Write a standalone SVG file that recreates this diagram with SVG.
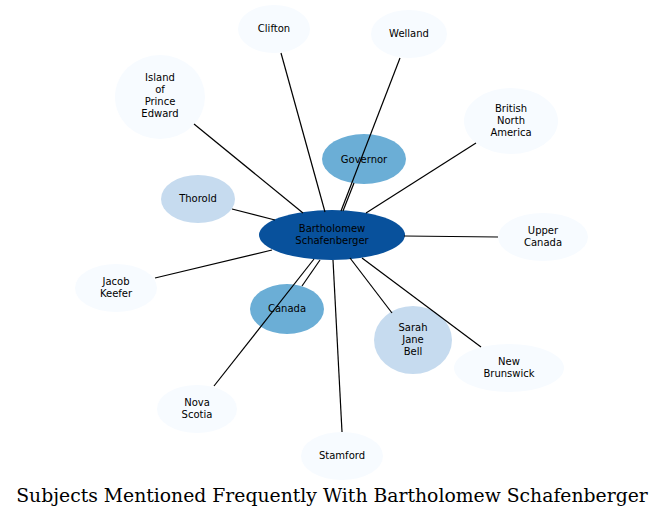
<svg xmlns="http://www.w3.org/2000/svg" width="664" height="517" viewBox="0 0 664 517">
<style>
text{font-family:"DejaVu Sans",sans-serif;font-size:10px;text-anchor:middle;fill:#000}
.t{font-family:"DejaVu Serif",serif;font-size:18.8px}
.c0{fill:#08519c}.c1{fill:#6baed6}.c2{fill:#c6dbef}.c3{fill:#f7fbff}
#edges line{stroke:#000;stroke-width:1.2}
</style>
<rect width="664" height="517" fill="#fff"/>
<g id="n-center"><ellipse class="c0" cx="332" cy="235" rx="73" ry="25"/><text x="332" y="232">Bartholomew</text><text x="332" y="244">Schafenberger</text></g>
<g id="n-governor"><ellipse class="c1" cx="364" cy="159" rx="42" ry="25"/><text x="364" y="163">Governor</text></g>
<g id="n-canada"><ellipse class="c1" cx="287" cy="309" rx="37" ry="25"/><text x="287" y="312">Canada</text></g>
<g id="n-thorold"><ellipse class="c2" cx="198" cy="199" rx="37" ry="24"/><text x="198" y="202">Thorold</text></g>
<g id="n-sarah"><ellipse class="c2" cx="413" cy="340" rx="39" ry="34"/><text x="413" y="331">Sarah</text><text x="413" y="343">Jane</text><text x="413" y="355">Bell</text></g>
<g id="n-clifton"><ellipse class="c3" cx="274" cy="29" rx="36" ry="24"/><text x="274" y="32">Clifton</text></g>
<g id="n-welland"><ellipse class="c3" cx="409" cy="34" rx="38" ry="24"/><text x="409" y="37">Welland</text></g>
<g id="n-island"><ellipse class="c3" cx="160" cy="97" rx="45" ry="42"/><text x="160" y="81">Island</text><text x="160" y="93">of</text><text x="160" y="105">Prince</text><text x="160" y="117">Edward</text></g>
<g id="n-bna"><ellipse class="c3" cx="511" cy="121" rx="47" ry="33"/><text x="511" y="112">British</text><text x="511" y="124">North</text><text x="511" y="136">America</text></g>
<g id="n-upper"><ellipse class="c3" cx="543" cy="237" rx="45" ry="24"/><text x="543" y="234">Upper</text><text x="543" y="246">Canada</text></g>
<g id="n-jacob"><ellipse class="c3" cx="116" cy="288" rx="41" ry="24"/><text x="116" y="285">Jacob</text><text x="116" y="297">Keefer</text></g>
<g id="n-newbrunswick"><ellipse class="c3" cx="509" cy="368" rx="55" ry="24"/><text x="509" y="365">New</text><text x="509" y="377">Brunswick</text></g>
<g id="n-novascotia"><ellipse class="c3" cx="197" cy="409" rx="40" ry="24"/><text x="197" y="406">Nova</text><text x="197" y="418">Scotia</text></g>
<g id="n-stamford"><ellipse class="c3" cx="342" cy="456" rx="41" ry="24"/><text x="342" y="459">Stamford</text></g>
<g id="edges">
<line x1="325" y1="212" x2="281" y2="53"/>
<line x1="341" y1="211" x2="400" y2="58"/>
<line x1="303" y1="213" x2="194" y2="124"/>
<line x1="366" y1="213" x2="476" y2="143"/>
<line x1="343" y1="211" x2="354" y2="183"/>
<line x1="275" y1="220" x2="232" y2="209"/>
<line x1="404" y1="236" x2="498" y2="237"/>
<line x1="272" y1="250" x2="155" y2="278"/>
<line x1="320" y1="260" x2="302" y2="286"/>
<line x1="314" y1="259" x2="214" y2="386"/>
<line x1="350" y1="258" x2="392" y2="313"/>
<line x1="362" y1="258" x2="481" y2="347"/>
<line x1="333" y1="260" x2="342" y2="432"/>
</g>
<text class="t" x="332" y="502">Subjects Mentioned Frequently With Bartholomew Schafenberger</text>
</svg>
